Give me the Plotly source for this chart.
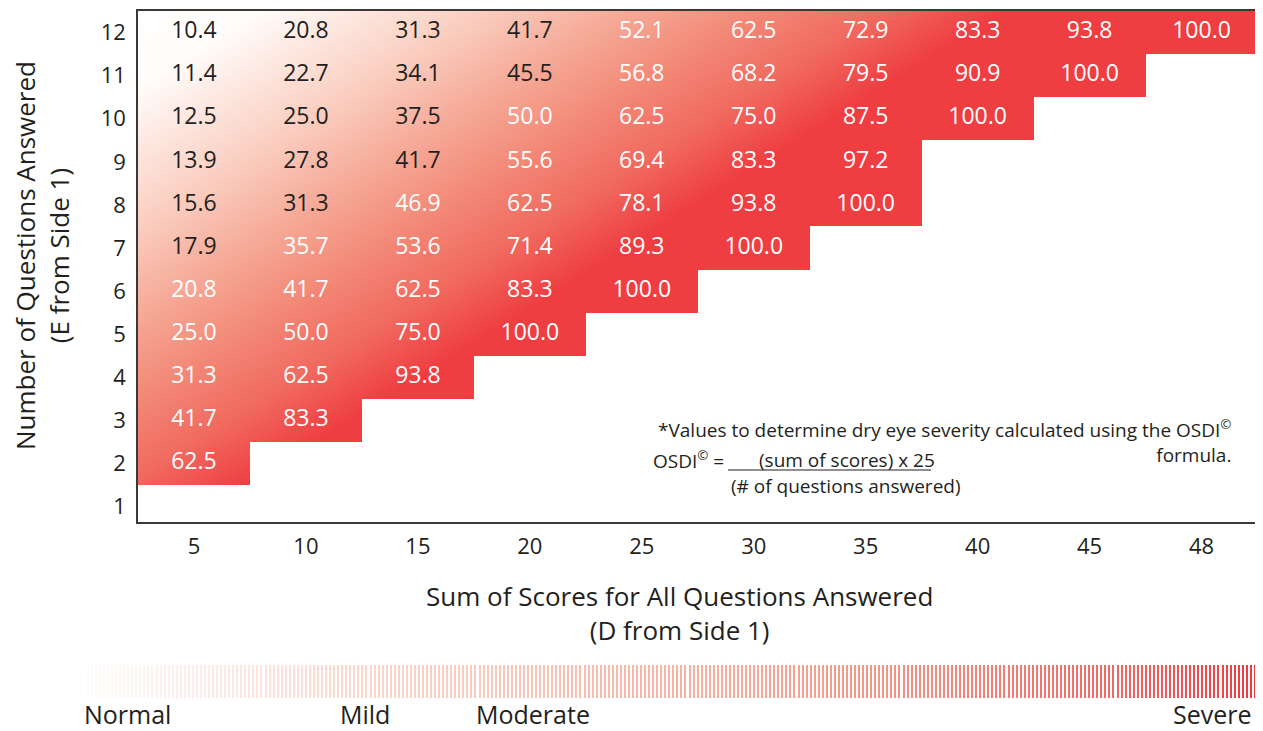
import plotly.graph_objects as go

# ---------------- data ----------------
SUM_LABELS = ["5", "10", "15", "20", "25", "30", "35", "40", "45", "48"]
N_QUESTIONS = [1, 2, 3, 4, 5, 6, 7, 8, 9, 10, 11, 12]

ROW_1 = []
ROW_2 = [62.5]
ROW_3 = [41.7, 83.3]
ROW_4 = [31.3, 62.5, 93.8]
ROW_5 = [25.0, 50.0, 75.0, 100.0]
ROW_6 = [20.8, 41.7, 62.5, 83.3, 100.0]
ROW_7 = [17.9, 35.7, 53.6, 71.4, 89.3, 100.0]
ROW_8 = [15.6, 31.3, 46.9, 62.5, 78.1, 93.8, 100.0]
ROW_9 = [13.9, 27.8, 41.7, 55.6, 69.4, 83.3, 97.2]
ROW_10 = [12.5, 25.0, 37.5, 50.0, 62.5, 75.0, 87.5, 100.0]
ROW_11 = [11.4, 22.7, 34.1, 45.5, 56.8, 68.2, 79.5, 90.9, 100.0]
ROW_12 = [10.4, 20.8, 31.3, 41.7, 52.1, 62.5, 72.9, 83.3, 93.8, 100.0]
ROWS = [ROW_1, ROW_2, ROW_3, ROW_4, ROW_5, ROW_6, ROW_7, ROW_8, ROW_9, ROW_10, ROW_11, ROW_12]

SEVERITY_LABELS = ["Normal", "Mild", "Moderate", "Severe"]

# ---------------- style ----------------
PAGE_W, PAGE_H = 1263, 731
OFF = 8                      # default page body margin
W, H = PAGE_W - OFF, PAGE_H - OFF
FONT = "Open Sans"
INK = "#231F20"
RED = "rgb(239,62,66)"
# number of leading cells per row drawn with dark text (rows 1..12)
DARK_TEXT_COUNT = [0, 0, 0, 0, 0, 0, 1, 2, 3, 3, 4, 4]
N_STRIPES = 290


def px(x):
    return (x - OFF) / W


def py(y):
    return 1 - (y - OFF) / H


ncol = len(SUM_LABELS)
col_idx = list(range(ncol))

# background gradient (diagonal, white top-left -> red bottom-right)
GA, GB = 59.5, 36.6
gx = [-1.5, ncol + 0.5]
gy = [-0.5, 13.5]
gz = [[GA * (x + 0.5) + GB * (12.5 - y) for x in gx] for y in gy]
grad_scale = [
    [0.0, "rgb(255,255,255)"],
    [0.14, "rgb(255,252,250)"],
    [0.25, "rgb(253,232,225)"],
    [0.40, "rgb(250,205,191)"],
    [0.55, "rgb(246,172,154)"],
    [0.70, "rgb(243,140,122)"],
    [0.86, "rgb(240,106,95)"],
    [1.0, RED],
]

# mask for empty cells
mask = []
for vals in ROWS:
    mask.append([None if c < len(vals) else 1 for c in col_idx])

tx, ty, tt, tc = [], [], [], []
for n, vals, ndark in zip(N_QUESTIONS, ROWS, DARK_TEXT_COUNT):
    for c, v in enumerate(vals):
        tx.append(c)
        ty.append(n)
        tt.append(f"{v:.1f}")
        tc.append(INK if c < ndark else "white")

fig = go.Figure()
fig.add_trace(go.Heatmap(x=gx, y=gy, z=gz, zmin=0, zmax=460, colorscale=grad_scale,
                         zsmooth="best", showscale=False, hoverinfo="skip"))
fig.add_trace(go.Heatmap(x=col_idx, y=N_QUESTIONS, z=mask, zmin=0, zmax=1,
                         colorscale=[[0, "white"], [1, "white"]], showscale=False,
                         hoverinfo="skip"))
fig.add_trace(go.Scatter(x=tx, y=ty, text=tt, mode="text",
                         textfont=dict(family=FONT, size=23, color=tc),
                         hoverinfo="skip", showlegend=False))

# severity stripe scale
stripes = list(range(N_STRIPES))
stripe_scale = [
    [0.0, "rgb(255,251,250)"],
    [0.24, "rgb(251,214,204)"],
    [0.38, "rgb(249,196,182)"],
    [0.55, "rgb(247,172,156)"],
    [0.72, "rgb(244,140,126)"],
    [0.88, "rgb(241,105,100)"],
    [1.0, "rgb(238,58,64)"],
]
fig.add_trace(go.Bar(x=stripes, y=[1] * N_STRIPES, width=0.33,
                     marker=dict(color=stripes, colorscale=stripe_scale, cmin=0,
                                 cmax=N_STRIPES - 1, line=dict(width=0)),
                     xaxis="x2", yaxis="y2", hoverinfo="skip", showlegend=False))

axis_line = dict(showline=True, mirror=True, linecolor="#3c3838", linewidth=1.5,
                 showgrid=False, zeroline=False)

fig.update_layout(
    width=W, height=H,
    margin=dict(l=0, r=0, t=0, b=0),
    paper_bgcolor="white", plot_bgcolor="white",
    font=dict(family=FONT, color=INK),
    showlegend=False,
    xaxis=dict(domain=[px(138), px(1257.5)], range=[-0.5, ncol - 0.5],
               tickvals=col_idx, ticktext=SUM_LABELS, tickfont=dict(size=22, color=INK),
               ticks="", ticklabelstandoff=4, **axis_line),
    yaxis=dict(domain=[py(522), py(11)], range=[0.64, 12.5],
               tickvals=N_QUESTIONS, ticktext=[str(n) for n in N_QUESTIONS],
               tickfont=dict(size=22, color=INK), ticks="", ticklabelstandoff=6,
               **axis_line),
    xaxis2=dict(domain=[px(86), px(1257)], range=[-0.5, N_STRIPES - 0.5], visible=False,
                anchor="y2"),
    yaxis2=dict(domain=[py(698), py(665)], range=[0, 1], visible=False, anchor="x2"),
    bargap=0,
)

ann = []
ann.append(dict(text="Sum of Scores for All Questions Answered<br>(D from Side 1)",
                x=px(679), y=py(613), font=dict(size=26)))
ann.append(dict(text="Number of Questions Answered<br>(E from Side 1)", textangle=-90,
                x=px(42), y=py(256), font=dict(size=26)))
note = 19
ann.append(dict(text="*Values to determine dry eye severity calculated using the OSDI<sup>©</sup>"
                     "<br>formula.",
                x=px(1233), y=py(441), xanchor="right", align="right",
                font=dict(size=note)))
ann.append(dict(text="OSDI<sup>©</sup> =", x=px(726), y=py(460), xanchor="right",
                font=dict(size=note)))
ann.append(dict(text="(sum of scores) x 25", x=px(757), y=py(460), xanchor="left",
                font=dict(size=note)))
ann.append(dict(text="(# of questions answered)", x=px(729), y=py(486), xanchor="left",
                font=dict(size=note)))
for label, cx in zip(SEVERITY_LABELS, [127, 365, 533, 1212]):
    ann.append(dict(text=label, x=px(cx), y=py(714), font=dict(size=25)))
for a in ann:
    a.setdefault("xanchor", "center")
    a.update(xref="paper", yref="paper", yanchor="middle", showarrow=False)
    a["font"].setdefault("color", INK)
    a["font"].setdefault("family", FONT)
fig.update_layout(annotations=ann)

fig.add_shape(type="line", xref="paper", yref="paper", x0=px(728), x1=px(931),
              y0=py(470), y1=py(470), line=dict(color=INK, width=1.2))

fig.write_html("out.html")
